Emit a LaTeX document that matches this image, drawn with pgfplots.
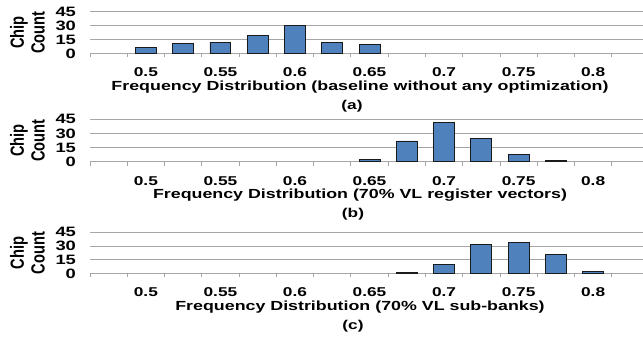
\documentclass[border=0pt]{standalone}
\usepackage{fontspec}
\setmainfont{Liberation Sans}
\newfontfamily\sfont{Liberation Sans}[FakeStretch=1.35]
\usepackage{pgfplots}
\pgfplotsset{compat=1.18}
\definecolor{barblue}{HTML}{4F81BD}
\definecolor{bardraw}{HTML}{1A1A1A}
\definecolor{gridgray}{HTML}{A6A6A6}
\pgfplotsset{panel/.style={
  scale only axis, width=419.25pt, height=31.5pt,
  xmin=-0.5, xmax=14.5, ymin=0, ymax=45,
  ytick={0,15,30,45}, ymajorgrids, grid style={gridgray, line width=0.6pt},
  axis x line=bottom, axis y line=left,
  x axis line style={-, gridgray, line width=0.8pt},
  y axis line style={draw=none},
  xtick={1,3,...,13}, xticklabels={0.5,0.55,0.6,0.65,0.7,0.75,0.8},
  major tick length=0pt,
  minor xtick={-0.5,0.5,...,14.5},
  minor x tick style={gridgray, line width=0.6pt},
  minor tick length=3pt, tick align=outside,
  ytick style={draw=none},
  /pgf/number format/assume math mode=true,
  ybar, bar width=0.56,
  xticklabel style={font=\sfont\bfseries\fontsize{9.6}{10}\selectfont, yshift=-7.5pt},
  yticklabel style={font=\sfont\bfseries\fontsize{10.2}{10}\selectfont, xshift=-7pt},
  ylabel={Chip\\Count},
  ylabel style={align=center, font=\bfseries\fontsize{11}{12}\selectfont, yscale=1.3, at={(axis description cs:-0.112,0.5)}, anchor=center},
  xlabel style={font=\sfont\bfseries\fontsize{9.9}{10}\selectfont, at={(axis description cs:0.483,0)}, anchor=center, yshift=-25.3pt},
}}
\begin{document}
\begin{tikzpicture}
\useasboundingbox (0,0) rectangle (482.25pt,253.5pt);
\begin{axis}[panel, name=pa, at={(67.5pt,213.5pt)}, anchor=south west, height=31.2pt,
  xlabel={Frequency Distribution (baseline without any optimization)}]
\addplot[fill=barblue, draw=bardraw, line width=0.6pt] coordinates {(1,6) (2,11) (3,12) (4,19) (5,30) (6,12) (7,10)};
\end{axis}
\begin{axis}[panel, name=pb, at={(67.5pt,132.2pt)}, anchor=south west, height=31.8pt,
  xlabel={Frequency Distribution (70\% VL register vectors)}]
\addplot[fill=barblue, draw=bardraw, line width=0.6pt] coordinates {(7,2) (8,22) (9,42) (10,25) (11,8) (12,1)};
\end{axis}
\begin{axis}[panel, name=pc, at={(67.5pt,48.5pt)}, anchor=south west, height=30.75pt,
  xlabel={Frequency Distribution (70\% VL sub-banks)}]
\addplot[fill=barblue, draw=bardraw, line width=0.6pt] coordinates {(8,1) (9,10) (10,32) (11,34) (12,21) (13,2)};
\end{axis}
\node[font=\sfont\bfseries\fontsize{9.6}{10}\selectfont] at (264pt,174pt) {(a)};
\node[font=\sfont\bfseries\fontsize{9.6}{10}\selectfont] at (264.75pt,93pt) {(b)};
\node[font=\sfont\bfseries\fontsize{9.6}{10}\selectfont] at (264.75pt,9pt) {(c)};
\end{tikzpicture}
\end{document}
